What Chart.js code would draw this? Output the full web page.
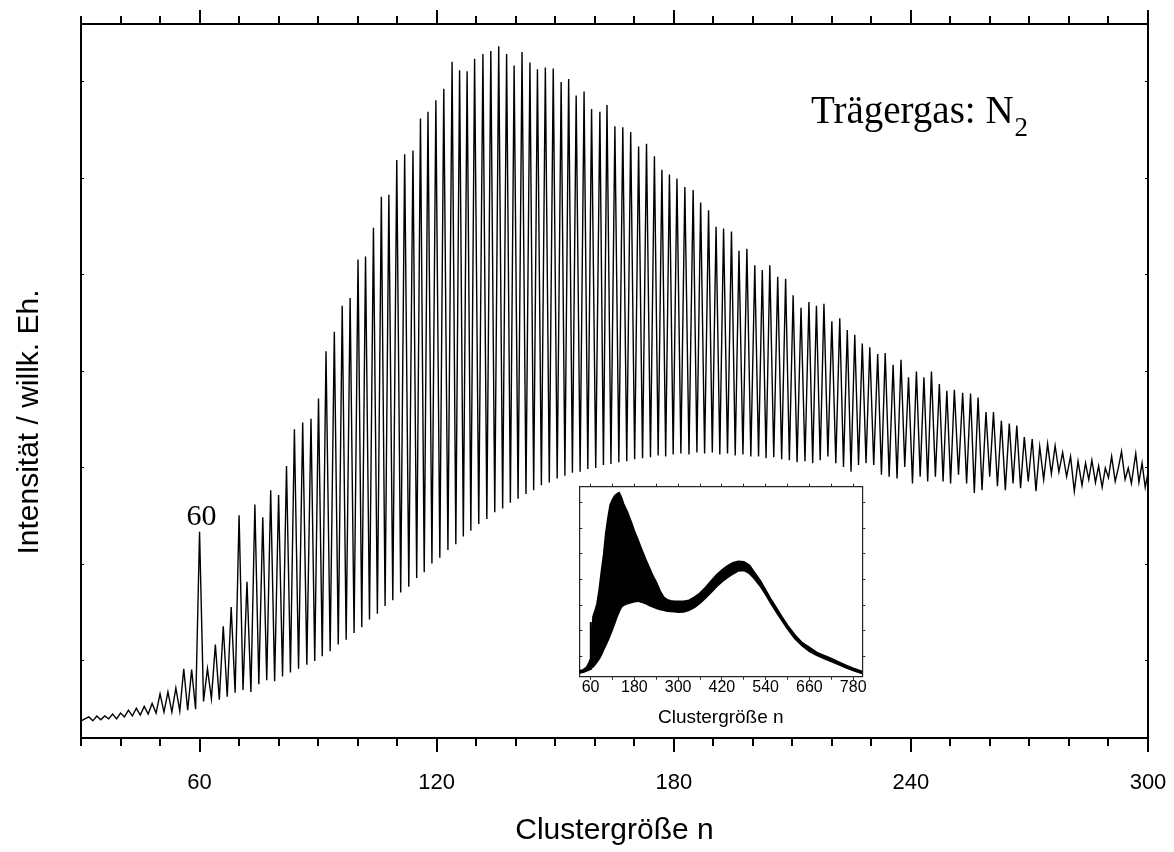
<!DOCTYPE html>
<html>
<head>
<meta charset="utf-8">
<script src="https://cdn.jsdelivr.net/npm/chart.js@4.4.1/dist/chart.umd.min.js"></script>
<style>
  html, body { margin: 0; padding: 0; background: #fff; }
  #wrap { position: relative; width: 1174px; height: 852px; }
  #main { position: absolute; left: 0; top: 0; }
  #inset { position: absolute; left: 560px; top: 480px; }
</style>
</head>
<body>
<div id="wrap">
  <canvas id="main" width="1174" height="852"></canvas>
  <canvas id="inset" width="320" height="256"></canvas>
</div>
<script>
// main spectrum: cluster size n of each peak, its intensity, and the dip after it
const peakN = [32, 34, 36, 38, 40, 42, 44, 46, 48, 50, 52, 54, 56, 58, 60, 62, 64, 66, 68, 70, 72, 74, 76, 78, 80, 82, 84,
  86.1, 88.2, 90.1, 92.0, 94.1, 96.1, 98.1, 100.1, 102.0, 104.0, 106.0, 107.9, 109.9, 111.9, 114.0, 115.9, 117.8, 119.8,
  121.8, 123.9, 125.8, 127.7, 129.6, 131.7, 133.7, 135.7, 137.7, 139.6, 141.6, 143.6, 145.5, 147.5, 149.5,
  151.5, 153.4, 155.3, 157.3, 159.2, 161.3, 163.1, 165.1, 167.1, 169.1, 171.1, 173.1, 175.1, 177.0, 178.9, 180.8, 182.8,
  184.9, 186.8, 188.8, 190.7, 192.6, 194.6, 196.5, 198.5, 200.5, 202.4, 204.3, 206.3, 208.3, 210.2, 212.2, 214.2, 216.1,
  218.0, 220.0, 222.0,
  223.9, 225.8, 227.7, 229.6, 231.6, 233.5, 235.5, 237.5, 239.4, 241.4, 243.3, 245.2, 247.2, 249.1, 251.0, 253.1, 255.1,
  257.0, 259.0, 260.9, 262.9, 264.9, 266.8, 268.7, 270.7, 272.6, 274.6, 276.5, 278.4, 280.4, 282.3];
const peakI = [0.42, 0.43, 0.43, 0.45, 0.46, 0.49, 0.51, 0.53, 0.56, 0.66, 0.68, 0.72, 0.92, 0.91, 2.34, 0.92, 1.17, 1.36,
  1.56, 2.51, 1.82, 2.62, 2.49, 2.77, 2.72, 3.02, 3.40,
  3.47, 3.51, 3.72, 4.21, 4.41, 4.68, 4.76, 5.16, 5.19, 5.49, 5.81, 5.83, 6.19, 6.25, 6.29, 6.62, 6.69, 6.81, 6.93, 7.21,
  7.12, 7.11, 7.24, 7.29, 7.32, 7.37, 7.29, 7.17, 7.31, 7.20, 7.13, 7.15, 7.14,
  7.00, 7.03, 6.86, 6.90, 6.72, 6.69, 6.76, 6.54, 6.53, 6.48, 6.33, 6.36, 6.23, 6.09, 6.04, 6.00, 5.91, 5.88, 5.75, 5.67,
  5.50, 5.48, 5.45, 5.25, 5.27, 5.10, 5.05, 5.10, 4.98, 4.96, 4.79, 4.66, 4.72, 4.68, 4.70, 4.52, 4.55,
  4.43, 4.38, 4.29, 4.25, 4.18, 4.19, 4.07, 4.12, 3.94, 4.00, 3.94, 4.00, 3.87, 3.80, 3.81, 3.78, 3.77, 3.73, 3.58, 3.58,
  3.49, 3.46, 3.44, 3.32, 3.30, 3.22, 3.25, 3.23, 3.16, 3.12, 3.07];
const valleyI = [0.38, 0.39, 0.40, 0.40, 0.42, 0.43, 0.44, 0.45, 0.46, 0.47, 0.47, 0.48, 0.49, 0.50,
  0.58, 0.61, 0.60, 0.63, 0.67, 0.70, 0.68, 0.76, 0.80, 0.79, 0.84, 0.88, 0.92,
  0.96, 1.00, 1.05, 1.10, 1.17, 1.22, 1.29, 1.35, 1.43, 1.49, 1.57, 1.63, 1.71, 1.77, 1.86, 1.92, 2.01, 2.07, 2.15, 2.21,
  2.29, 2.35, 2.42, 2.47, 2.54, 2.58, 2.64, 2.68, 2.73, 2.77, 2.82, 2.85, 2.89,
  2.92, 2.95, 2.96, 2.99, 3.00, 3.03, 3.04, 3.06, 3.07, 3.09, 3.10, 3.11, 3.13, 3.12, 3.14, 3.15, 3.14, 3.16, 3.15, 3.16,
  3.14, 3.15, 3.13, 3.14, 3.12, 3.12, 3.10, 3.11, 3.09, 3.08, 3.06, 3.07, 3.05, 3.08, 3.12, 3.05, 3.01,
  2.96, 3.03, 3.05, 3.03, 2.93, 2.91, 2.89, 3.01, 2.84, 2.91, 2.86, 2.91, 2.86, 2.84, 2.93, 2.84, 2.74, 2.77, 2.91, 2.81,
  2.77, 2.84, 2.79, 2.86, 2.76, 2.88, 2.94, 2.96, 2.91, 2.76];
const headN = [30];
const headI = [0.38];
const tailN = [283.3, 284.2, 285.0, 285.8, 286.7, 287.5, 288.4, 289.2, 290.0, 290.8, 291.7, 292.5, 293.3, 294.2, 295.0,
  295.8, 296.9, 297.7, 298.5, 299.3, 300.0];
const tailI = [2.82, 3.05, 2.88, 3.08, 2.85, 3.02, 2.80, 3.00, 2.90, 3.12, 2.86, 3.00, 3.17, 2.88, 3.00, 2.84, 3.15, 2.85,
  3.05, 2.80, 2.95];

// inset: full spectrum as upper / lower envelope
const insetN = [29, 40, 50, 56, 59, 60, 61, 64, 67, 72, 78, 84, 90, 96, 102, 108, 114, 120, 126, 132, 138, 144, 150, 160,
  170, 180, 190, 200, 210, 220, 230, 240, 250, 260, 270, 280, 290, 300, 315, 330, 345, 360, 375, 390, 405, 420, 435, 450,
  465, 480, 495, 510, 525, 540, 555, 570, 585, 600, 620, 640, 660, 680, 700, 720, 740, 760, 780, 805];
const insetUpper = [0.42, 0.46, 0.58, 0.75, 0.85, 2.34, 0.95, 1.30, 2.54, 2.75, 3.05, 3.60, 4.30, 4.95, 5.80, 6.40, 6.90,
  7.10, 7.25, 7.33, 7.38, 7.20, 6.95, 6.65, 6.28, 5.88, 5.52, 5.15, 4.80, 4.48, 4.15, 3.88, 3.55, 3.30, 3.20, 3.16, 3.14,
  3.14, 3.14, 3.18, 3.30, 3.46, 3.68, 3.92, 4.16, 4.36, 4.52, 4.64, 4.70, 4.68, 4.55, 4.25, 3.95, 3.58, 3.20, 2.86, 2.52,
  2.20, 1.82, 1.52, 1.34, 1.14, 1.02, 0.90, 0.77, 0.64, 0.52, 0.40];
const insetLower = [0.35, 0.38, 0.44, 0.48, 0.50, 0.52, 0.53, 0.56, 0.60, 0.68, 0.80, 0.92, 1.08, 1.28, 1.45, 1.65, 1.85,
  2.08, 2.30, 2.55, 2.75, 2.92, 3.00, 3.06, 3.10, 3.14, 3.16, 3.12, 3.07, 3.00, 2.94, 2.88, 2.83, 2.80, 2.77, 2.76, 2.75,
  2.73, 2.74, 2.80, 2.92, 3.08, 3.28, 3.50, 3.72, 3.92, 4.08, 4.22, 4.34, 4.36, 4.25, 4.02, 3.75, 3.42, 3.06, 2.72, 2.40,
  2.08, 1.70, 1.42, 1.20, 1.04, 0.92, 0.80, 0.68, 0.56, 0.45, 0.33];

const xTicksMain = [60, 120, 180, 240, 300];
const xTitle = 'Clustergröße n';
const yTitle = 'Intensität / willk. Eh.';

const SANS = '"Liberation Sans", Arial, sans-serif';
const SERIF = '"Liberation Serif", "Times New Roman", serif';

// trace: peak, dip halfway to the next peak, next peak ...
const trace = headN.map((n, i) => ({ x: n, y: headI[i] }));
peakN.forEach((n, i) => {
  trace.push({ x: n, y: peakI[i] });
  if (i < peakN.length - 1) trace.push({ x: (n + peakN[i + 1]) / 2, y: valleyI[i] });
});
tailN.forEach((n, i) => trace.push({ x: n, y: tailI[i] }));

// fixed axis sizes, so the plot frame sits where the original is
const setH = h => s => { s.height = h; s.paddingLeft = 0; s.paddingRight = 0; };
const setW = w => s => { s.width = w; s.paddingTop = 0; s.paddingBottom = 0; };

const annotate = {
  id: 'annotate',
  afterDraw(chart) {
    const ctx = chart.ctx;
    ctx.save();
    ctx.fillStyle = '#000';
    ctx.font = '30px ' + SANS;
    ctx.textAlign = 'center';
    ctx.textBaseline = 'middle';
    ctx.translate(30, 422);
    ctx.rotate(-Math.PI / 2);
    ctx.fillText(yTitle, 0, 0);
    ctx.restore();

    ctx.save();
    ctx.fillStyle = '#000';
    ctx.font = '30px ' + SERIF;
    ctx.textAlign = 'center';
    ctx.textBaseline = 'alphabetic';
    const px = chart.scales.x.getPixelForValue(60);
    const py = chart.scales.y.getPixelForValue(2.34);
    ctx.fillText('60', px + 2, py - 7);

    ctx.textAlign = 'left';
    ctx.font = '39px ' + SERIF;
    const main = 'Trägergas: N';
    ctx.fillText(main, 811, 123);
    const w = ctx.measureText(main).width;
    ctx.font = '27px ' + SERIF;
    ctx.fillText('2', 811 + w + 1, 136);
    ctx.restore();
  }
};

new Chart(document.getElementById('main'), {
  type: 'line',
  data: {
    datasets: [{
      data: trace,
      borderColor: '#000',
      borderWidth: 1.4,
      pointRadius: 0,
      tension: 0,
      fill: false
    }]
  },
  options: {
    responsive: false,
    animation: false,
    layout: { padding: 0 },
    plugins: { legend: { display: false }, tooltip: { enabled: false } },
    scales: {
      x: {
        type: 'linear', position: 'bottom', min: 30, max: 300, weight: 0,
        afterBuildTicks: s => { s.ticks = xTicksMain.map(v => ({ value: v })); },
        ticks: { stepSize: 60, includeBounds: false, maxRotation: 0, autoSkip: false, color: '#000',
          padding: 20, font: { family: SANS, size: 22, lineHeight: 1 } },
        grid: { drawOnChartArea: false, tickLength: 14, color: '#000', lineWidth: 2 },
        border: { display: true, color: '#000', width: 2 },
        title: { display: true, text: xTitle, color: '#000', font: { family: SANS, size: 30, lineHeight: 1 },
          padding: { top: 0, bottom: 6 } },
        afterFit: setH(114)
      },
      xMinor: {
        type: 'linear', position: 'bottom', min: 30, max: 300, weight: -1,
        ticks: { stepSize: 10, includeBounds: false, display: false },
        grid: { drawOnChartArea: false, tickLength: 8, color: '#000', lineWidth: 2 },
        border: { display: false },
        afterFit: setH(0)
      },
      xTop: {
        type: 'linear', position: 'top', min: 30, max: 300, weight: 0,
        ticks: { stepSize: 60, includeBounds: false, display: false },
        grid: { drawOnChartArea: false, tickLength: 14, color: '#000', lineWidth: 2 },
        border: { display: true, color: '#000', width: 2 },
        afterFit: setH(24)
      },
      xTopMinor: {
        type: 'linear', position: 'top', min: 30, max: 300, weight: -1,
        ticks: { stepSize: 10, includeBounds: false, display: false },
        grid: { drawOnChartArea: false, tickLength: 8, color: '#000', lineWidth: 2 },
        border: { display: false },
        afterFit: setH(0)
      },
      y: {
        type: 'linear', position: 'left', min: 0.202, max: 7.6,
        ticks: { stepSize: 1, includeBounds: false, display: false },
        grid: { drawOnChartArea: false, tickLength: -3, color: '#000', lineWidth: 1 },
        border: { display: true, color: '#000', width: 2 },
        afterFit: setW(81)
      },
      yRight: {
        type: 'linear', position: 'right', min: 0.202, max: 7.6,
        ticks: { stepSize: 1, includeBounds: false, display: false },
        grid: { drawOnChartArea: false, tickLength: -3, color: '#000', lineWidth: 1 },
        border: { display: true, color: '#000', width: 2 },
        afterFit: setW(26)
      }
    }
  },
  plugins: [annotate]
});

const upperPts = insetN.map((n, i) => ({ x: n, y: insetUpper[i] }));
const lowerPts = insetN.map((n, i) => ({ x: n, y: insetLower[i] }));
const thin = '#222';

new Chart(document.getElementById('inset'), {
  type: 'line',
  data: {
    datasets: [
      { data: lowerPts, borderColor: '#000', borderWidth: 2, pointRadius: 0, tension: 0, fill: false },
      { data: upperPts, borderColor: '#000', borderWidth: 2, pointRadius: 0, tension: 0, fill: '-1',
        backgroundColor: '#000' }
    ]
  },
  options: {
    responsive: false,
    animation: false,
    layout: { padding: 0 },
    plugins: { legend: { display: false }, tooltip: { enabled: false } },
    scales: {
      x: {
        type: 'linear', position: 'bottom', min: 29, max: 805,
        ticks: { stepSize: 60, includeBounds: false, autoSkip: false, maxRotation: 0, color: '#000', padding: 0,
          font: { family: SANS, size: 16, lineHeight: 1 },
          callback: v => ((v - 60) % 120 === 0 ? String(v) : '') },
        grid: { drawOnChartArea: false, tickLength: 3, color: thin, lineWidth: 1 },
        border: { display: true, color: thin, width: 1.2 },
        title: { display: true, text: xTitle, color: '#000', font: { family: SANS, size: 19, lineHeight: 1 },
          padding: { top: 0, bottom: 8.5 } },
        afterFit: setH(59.3)
      },
      xTop: {
        type: 'linear', position: 'top', min: 29, max: 805,
        ticks: { stepSize: 60, includeBounds: false, display: false },
        grid: { drawOnChartArea: false, tickLength: 3, color: thin, lineWidth: 1 },
        border: { display: true, color: thin, width: 1.2 },
        afterFit: setH(6.7)
      },
      y: {
        type: 'linear', position: 'left', min: 0.2, max: 7.62,
        ticks: { stepSize: 1, includeBounds: false, display: false },
        grid: { drawOnChartArea: false, tickLength: -3, color: thin, lineWidth: 1 },
        border: { display: true, color: thin, width: 1.2 },
        afterFit: setW(19.3)
      },
      yRight: {
        type: 'linear', position: 'right', min: 0.2, max: 7.62,
        ticks: { stepSize: 1, includeBounds: false, display: false },
        grid: { drawOnChartArea: false, tickLength: 3, color: thin, lineWidth: 1 },
        border: { display: true, color: thin, width: 1.2 },
        afterFit: setW(17.7)
      }
    }
  }
});
</script>
</body>
</html>
